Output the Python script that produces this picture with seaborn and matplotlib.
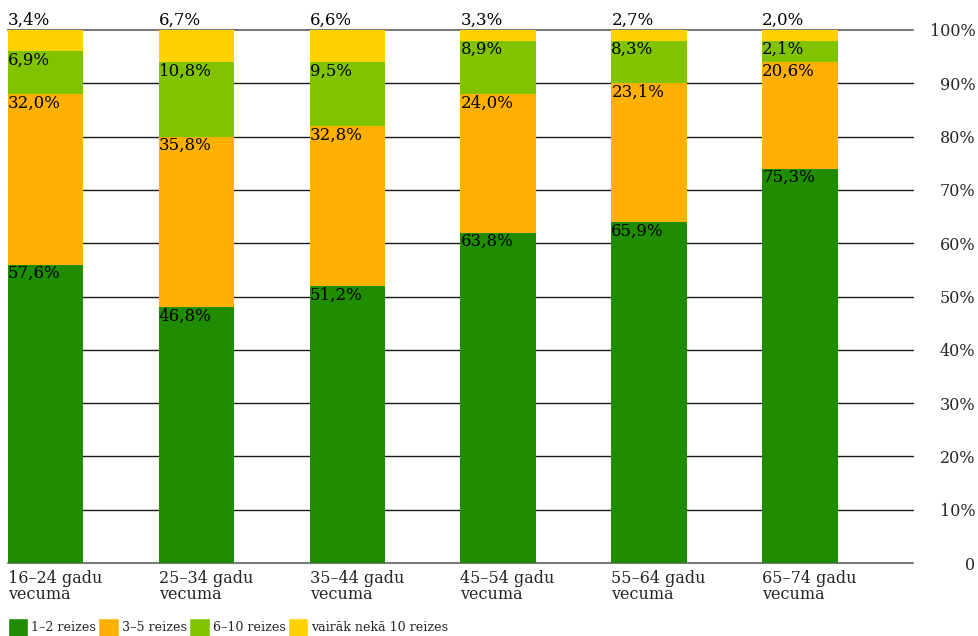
import numpy as np
import pandas as pd
import matplotlib
matplotlib.use('Agg')
import matplotlib.pyplot as plt
import seaborn as sns
from matplotlib.patches import Patch

# data
groups = ['16–24 gadu\nvecumā', '25–34 gadu\nvecumā', '35–44 gadu\nvecumā',
          '45–54 gadu\nvecumā', '55–64 gadu\nvecumā', '65–74 gadu\nvecumā']
# printed labels
lab_1_2 = [57.6, 46.8, 51.2, 63.8, 65.9, 75.3]
lab_3_5 = [32.0, 35.8, 32.8, 24.0, 23.1, 20.6]
lab_6_10 = [6.9, 10.8, 9.5, 8.9, 8.3, 2.1]
lab_10plus = [3.4, 6.7, 6.6, 3.3, 2.7, 2.0]
# segment heights as drawn in the picture
bar_1_2 = [56, 48, 52, 62, 64, 74]
bar_3_5 = [32, 32, 30, 26, 26, 20]
bar_6_10 = [8, 14, 12, 10, 8, 4]
bar_10plus = [4, 6, 6, 2, 2, 2]
series_names = ['1–2 reizes', '3–5 reizes', '6–10 reizes', 'vairāk nekā 10 reizes']
colors = ['#208C00', '#FFB000', '#82C300', '#FFD200']
yticks = [0, 10, 20, 30, 40, 50, 60, 70, 80, 90, 100]
ytick_labels = ['0', '10%', '20%', '30%', '40%', '50%', '60%', '70%', '80%', '90%', '100%']

sns.set_style('white')
plt.rcParams['font.family'] = ['DejaVu Serif']

df = pd.DataFrame({'grupa': groups, 'b1': bar_1_2, 'b2': bar_3_5, 'b3': bar_6_10, 'b4': bar_10plus})
df['c1'] = df['b1']
df['c2'] = df['c1'] + df['b2']
df['c3'] = df['c2'] + df['b3']
df['c4'] = df['c3'] + df['b4']

fig = plt.figure(figsize=(9.79, 6.36), dpi=100)
ax = fig.add_axes([8 / 979, 1 - 563 / 636, (913 - 8) / 979, (563 - 30) / 636])

# stacked bars: draw cumulative totals, biggest first
for col, c in zip(['c4', 'c3', 'c2', 'c1'], colors[::-1]):
    sns.barplot(data=df, x='grupa', y=col, color=c, saturation=1, width=0.5,
                ax=ax, zorder=2, linewidth=0)

# gridlines
for y in yticks:
    if y in (0, 100):
        ax.axhline(y, color='#7a7a7a', lw=1.5, zorder=1, clip_on=False)
    else:
        ax.axhline(y, color='#1a1a1a', lw=1.0, zorder=1, clip_on=False)

def fmt(v):
    return f'{v:.1f}'.replace('.', ',') + '%'

# value labels
fs = 12
for i in range(len(groups)):
    left = i - 0.25
    for top, val in zip([df['c1'][i], df['c2'][i], df['c3'][i]],
                        [lab_1_2[i], lab_3_5[i], lab_6_10[i]]):
        ax.text(left, top - 0.1, fmt(val), ha='left', va='top',
                fontsize=fs, color='black', zorder=3)
    ax.text(left, 100.3, fmt(lab_10plus[i]), ha='left',
            va='bottom', fontsize=fs, color='black', zorder=3)

ax.set_xlim(-0.25, 5.75)
ax.set_ylim(0, 100)
for s in ax.spines.values():
    s.set_visible(False)

ax.set_xticks(np.arange(len(groups)) - 0.25)
ax.set_xticklabels(groups, ha='left', fontsize=11.5, linespacing=0.9)
ax.tick_params(axis='x', length=0, pad=5)

ax.yaxis.tick_right()
ax.set_yticks(yticks)
ax.set_yticklabels(ytick_labels, fontsize=11.5)
for lab in ax.get_yticklabels():
    lab.set_horizontalalignment('right')
ax.tick_params(axis='y', length=0, pad=45)
ax.set_xlabel('')
ax.set_ylabel('')

handles = [Patch(facecolor=c, label=n) for c, n in zip(colors, series_names)]
fig.legend(handles=handles, loc='lower left', bbox_to_anchor=(0.0, -0.013), ncol=4,
           frameon=False, fontsize=9.1, handlelength=1.6, handleheight=1.9,
           handletextpad=0.25, columnspacing=0.2, borderaxespad=0.2)

fig.savefig('out.png', dpi=100)
